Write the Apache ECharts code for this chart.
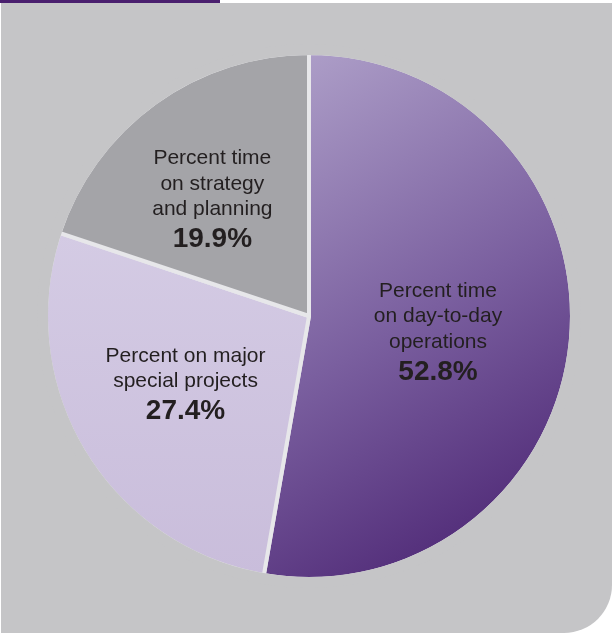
<!DOCTYPE html>
<html>
<head>
<meta charset="utf-8">
<script src="https://cdn.jsdelivr.net/npm/echarts@6/dist/echarts.min.js"></script>
<style>
  html, body { margin: 0; padding: 0; background: #ffffff; }
  #chart { width: 612px; height: 633px; }
</style>
</head>
<body>
<div id="chart"></div>
<script>
// Share of time by activity (percent)
const categories = [
  'Percent time\non day-to-day\noperations',
  'Percent on major\nspecial projects',
  'Percent time\non strategy\nand planning'
];
const values = [52.8, 27.4, 19.9];
const valueLabels = ['52.8%', '27.4%', '19.9%'];

// Slice fills
const sliceFills = [
  { type: 'linear', x: 0, y: 0, x2: 1, y2: 1, colorStops: [
    { offset: 0, color: '#b1a3cb' },
    { offset: 0.5, color: '#7a5f9f' },
    { offset: 1, color: '#431a6b' }
  ] },
  { type: 'linear', x: 0, y: 0, x2: 0, y2: 1, colorStops: [
    { offset: 0, color: '#d4cbe4' },
    { offset: 1, color: '#c9bddb' }
  ] },
  '#a4a4a8'
];

// Nudges of each label away from the slice mid-point
const labelNudge = [[-5, 6], [-8, 1], [-18, -6]];

const BG = '#c5c5c7';
const FONT = '"Liberation Sans", Arial, Helvetica, sans-serif';

const chart = echarts.init(document.getElementById('chart'), null, { renderer: 'canvas' });

chart.setOption({
  animation: false,
  backgroundColor: '#ffffff',
  graphic: [
    { type: 'rect', z: -10, shape: { x: 1, y: 3, width: 611, height: 630, r: [0, 0, 48, 0] }, style: { fill: BG } },
    { type: 'rect', z: -10, shape: { x: 0, y: 0, width: 220, height: 3 }, style: { fill: '#4a1f6e' } }
  ],
  series: [
    {
      type: 'pie',
      center: [309, 316],
      radius: 263,
      startAngle: 90,
      clockwise: true,
      silent: true,
      z: 2,
      itemStyle: { borderColor: '#e7e7ea', borderWidth: 4 },
      label: {
        show: true,
        position: 'inside',
        fontFamily: FONT,
        color: '#231f20',
        align: 'center',
        formatter: (p) => '{a|' + p.name + '}\n{b|' + valueLabels[p.dataIndex] + '}',
        rich: {
          a: { fontFamily: FONT, fontSize: 21, lineHeight: 25.5, color: '#231f20', align: 'center' },
          b: { fontFamily: FONT, fontSize: 28, fontWeight: 'bold', lineHeight: 34, color: '#231f20', align: 'center' }
        }
      },
      labelLine: { show: false },
      labelLayout: (params) => ({ dx: labelNudge[params.dataIndex][0], dy: labelNudge[params.dataIndex][1] }),
      data: categories.map((name, i) => ({ name, value: values[i], itemStyle: { color: sliceFills[i] } }))
    },
    {
      // trims the border stroke off the outer rim
      type: 'pie',
      center: [309, 316],
      radius: [261, 272],
      silent: true,
      z: 3,
      label: { show: false },
      labelLine: { show: false },
      itemStyle: { color: BG, borderWidth: 0 },
      data: [{ value: 1, name: 'rim' }]
    }
  ]
});
</script>
</body>
</html>
